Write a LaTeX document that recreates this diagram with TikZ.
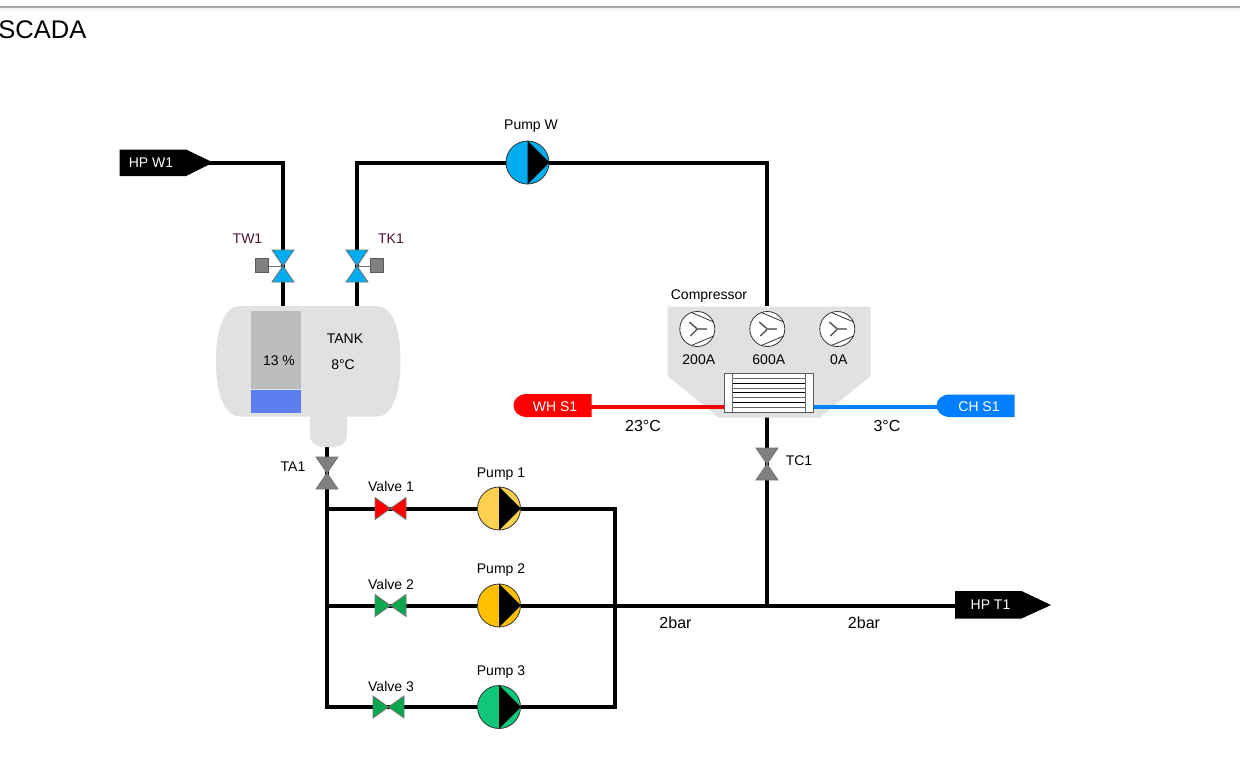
\documentclass[tikz,border=0pt]{standalone}
\usepackage{fontspec}
\setmainfont{Liberation Sans}
\definecolor{tankgrey}{HTML}{E1E1E1}
\definecolor{levelgrey}{HTML}{BDBDBD}
\definecolor{levelblue}{HTML}{5B7FF0}
\definecolor{valveblue}{HTML}{00AEEF}
\definecolor{valvegreen}{HTML}{0BA74E}
\definecolor{chblue}{HTML}{0080FF}
\definecolor{pumpone}{HTML}{FFD050}
\definecolor{pumptwo}{HTML}{FFC000}
\definecolor{pumpthree}{HTML}{10C67A}
\definecolor{tagmaroon}{HTML}{4A1030}
\tikzset{
  pipe/.style={line width=4pt,line join=miter},
  label/.style={font=\fontsize{14}{16}\selectfont,text=black,inner sep=0pt},
  biglabel/.style={font=\fontsize{16}{18}\selectfont,text=black,inner sep=0pt},
  taglabel/.style={font=\fontsize{14}{16}\selectfont,text=white,inner sep=0pt},
  pumpbody/.style={circle,draw=black!80,line width=0.8pt,minimum size=43pt,inner sep=0pt},
  valvebody/.style={draw=black!55,line width=0.8pt,line join=miter},
  fanbody/.style={circle,draw=black!80,fill=white,line width=0.8pt,minimum size=35pt,inner sep=0pt}
}
% upright valve, lower and upper triangle
\newcommand{\uprightvalve}[2]{
  \filldraw [valvebody,fill=#2] (#1) -- ++(-11,-16) -- ++(22,0) -- cycle;
  \filldraw [valvebody,fill=#2] (#1) -- ++(-11,16) -- ++(22,0) -- cycle;
}
% lying valve
\newcommand{\lyingvalve}[2]{
  \filldraw [valvebody,fill=#2] (#1) -- ++(-15.5,-11) -- ++(0,22) -- cycle;
  \filldraw [valvebody,fill=#2] (#1) -- ++(15.5,-11) -- ++(0,22) -- cycle;
}
\begin{document}
\begin{tikzpicture}[x=1pt,y=-1pt]
        \useasboundingbox (0,0) rectangle (1240,780);
        % top edge of the page
        \fill [black!4] (0,7) rectangle (1240,11);
        \fill [black!35] (0,5.5) rectangle (1240,7.5);
        \node [anchor=east,inner sep=0pt,font=\fontsize{25.5}{28}\selectfont] (title) at (86.5,30) {SCADA};

        \coordinate (hpW1tip) at (205,162.5);
        \coordinate (hpT1end) at (960,605.5);
        \coordinate (cornerTW) at (283,162.5);
        \coordinate (cornerTK) at (357,162.5);
        \coordinate (cornerCW) at (767,162.5);
        \coordinate (tw1) at (283,266);
        \coordinate (tk1) at (357,266);
        \coordinate (tankTW) at (283,306);
        \coordinate (tankTK) at (357,306);
        \coordinate (tankOut) at (327,447);
        \coordinate (ta1) at (327,473);
        \coordinate (busTop) at (327,508.5);
        \coordinate (busMid) at (327,605.5);
        \coordinate (busBot) at (327,707);
        \coordinate (retTop) at (615,508.5);
        \coordinate (retBot) at (615,707);
        \coordinate (compIn) at (767,306);
        \coordinate (compOut) at (767,417);
        \coordinate (tc1) at (767,464);
        \coordinate (junction) at (767,605.5);
        \coordinate (valve1) at (390.5,508.5);
        \coordinate (valve2) at (390.5,605.5);
        \coordinate (valve3) at (388.5,707);

        \node [pumpbody,fill=valveblue] (pumpW) at (527.5,162.5) {};
        \node [pumpbody,fill=pumpone] (pump1) at (499,508.5) {};
        \node [pumpbody,fill=pumptwo] (pump2) at (499,605.5) {};
        \node [pumpbody,fill=pumpthree] (pump3) at (499,707) {};

        % pipes
        \draw [pipe] (hpW1tip) -- (cornerTW) -- (tankTW);
        \draw [pipe] (tankTK) -- (cornerTK) -- (pumpW.west);
        \draw [pipe] (pumpW.east) -- (cornerCW) -- (compIn);
        \draw [pipe] (tankOut) -- (busBot) -- (pump3.west);
        \draw [pipe] (busTop) -- (pump1.west);
        \draw [pipe] (busMid) -- (pump2.west);
        \draw [pipe] (pump1.east) -- (retTop) -- (retBot) -- (pump3.east);
        \draw [pipe] (pump2.east) -- (hpT1end);
        \draw [pipe] (compOut) -- (junction);

        % pumps
        \foreach \p in {pumpW,pump1,pump2,pump3} {
            \fill (\p.north) -- (\p.east) -- (\p.south) -- cycle;
        }
        \node [label] (lblPumpW) at (531,126) {Pump W};
        \node [label] (lblPump1) at (501,474) {Pump 1};
        \node [label] (lblPump2) at (501,570) {Pump 2};
        \node [label] (lblPump3) at (501,672) {Pump 3};

        % valves
        \draw [line width=1pt,black!55] (tw1) -- ++(-16,0);
        \draw [line width=1pt,black!55] (tk1) -- ++(16,0);
        \filldraw [draw=black!65,fill=black!50,line width=0.8pt] (255.5,258) rectangle (268,272.5);
        \filldraw [draw=black!65,fill=black!50,line width=0.8pt] (370.5,258) rectangle (383,272.5);
        \uprightvalve{tw1}{valveblue}
        \uprightvalve{tk1}{valveblue}
        \uprightvalve{ta1}{black!50}
        \uprightvalve{tc1}{black!50}
        \lyingvalve{valve1}{red}
        \lyingvalve{valve2}{valvegreen}
        \lyingvalve{valve3}{valvegreen}
        \node [label,text=tagmaroon] (lblTW1) at (247.5,239) {TW1};
        \node [label,text=tagmaroon] (lblTK1) at (391,239) {TK1};
        \node [label] (lblTA1) at (293,467) {TA1};
        \node [label] (lblTC1) at (799,461) {TC1};
        \node [label] (lblValve1) at (391,486.5) {Valve 1};
        \node [label] (lblValve2) at (391,584.5) {Valve 2};
        \node [label] (lblValve3) at (391,686.5) {Valve 3};

        % tank
        \fill [tankgrey] (240,306) -- (377,306)
            .. controls (391,306) and (400.5,325) .. (400.5,361)
            .. controls (400.5,397) and (391,416.5) .. (377,416.5)
            -- (347,416.5) -- (347,435)
            .. controls (347,443) and (340,447) .. (333,447)
            -- (324,447)
            .. controls (316,447) and (310,443) .. (310,435)
            -- (310,416.5) -- (240,416.5)
            .. controls (226,416.5) and (216,397) .. (216,361)
            .. controls (216,325) and (226,306) .. (240,306) -- cycle;
        \fill [levelgrey] (251,311) rectangle (301,389);
        \fill [levelblue] (251,390) rectangle (301,412.5);
        \node [label] (lblLevel) at (279,361) {13 \%};
        \node [label] (lblTank) at (345,339) {TANK};
        \node [label] (lblTankTemp) at (343,365) {8°C};

        % compressor
        \fill [tankgrey] (667.5,306.5) -- (870.5,306.5) -- (870.5,376) -- (820,417.5)
            -- (718.5,417.5) -- (667.5,376) -- cycle;
        \node [label] (lblComp) at (709,296) {Compressor};
        \foreach \n/\x/\t in {fanA/697.3/200A,fanB/767.3/600A,fanC/837.3/0A} {
            \node [fanbody] (\n) at (\x,329) {};
            \draw [line width=0.8pt,black!80] (\x-6,312.5) -- (\x+16.5,322);
            \draw [line width=0.8pt,black!80] (\x-6,345.5) -- (\x+16.5,336);
            \draw [line width=1.5pt,black!65] (\x,329) -- (\x-8,322);
            \draw [line width=1.5pt,black!65] (\x,329) -- (\x-7,336);
            \draw [line width=2.4pt,black!50] (\x,329) -- (\x+10,329);
            \node [label] (\n text) at (\x+1.5,360) {\t};
        }

        % heat exchanger
        \node [draw=black!65,fill=white,line width=1pt,inner sep=0pt,minimum width=88.5pt,minimum height=38.5pt] (exchanger) at (768.75,393) {};
        \draw [pipe,red] (585,407) -- (exchanger.west |- 0,407);
        \draw [pipe,chblue] (exchanger.east |- 0,407) -- (945,407);
        \foreach \y in {378.3,388,397.3,407.3} {
            \draw [line width=1pt,black!60] (732.3,\y) -- (805.7,\y);
        }
        \foreach \y in {383.3,392.7,402.3} {
            \draw [line width=1pt,black] (732.3,\y) -- (805.7,\y);
        }
        \draw [line width=1pt,black!60] (732.3,373.7) -- (732.3,412.3);
        \draw [line width=1pt,black!60] (805.7,373.7) -- (805.7,412.3);

        % tags at the pipe ends
        \fill (119.5,149.5) -- (186,149.5) -- (213,162.5) -- (186,176) -- (119.5,176) -- cycle;
        \node [taglabel] (hpW1) at (151,163) {HP W1};
        \fill (955,591) -- (1021.5,591) -- (1051,605) -- (1021.5,618.5) -- (955,618.5) -- cycle;
        \node [taglabel] (hpT1) at (990.5,604.5) {HP T1};
        \fill [red] (591.5,394) -- (591.5,417) -- (527,417)
            .. controls (519,417) and (513.5,412) .. (513.5,405.5)
            .. controls (513.5,399) and (519,394) .. (527,394) -- cycle;
        \node [taglabel] (whS1) at (555,406.5) {WH S1};
        \fill [chblue] (1014.5,394.5) -- (1014.5,417) -- (950,417)
            .. controls (942,417) and (936.5,412) .. (936.5,405.5)
            .. controls (936.5,399) and (942,394.5) .. (950,394.5) -- cycle;
        \node [taglabel] (chS1) at (979,406.5) {CH S1};

        \node [biglabel] (tempHot) at (643,425.5) {23°C};
        \node [biglabel] (tempCold) at (887,425.5) {3°C};
        \node [biglabel] (pressA) at (675.5,622.5) {2bar};
        \node [biglabel] (pressB) at (864,622.5) {2bar};
    \end{tikzpicture}
\end{document}
